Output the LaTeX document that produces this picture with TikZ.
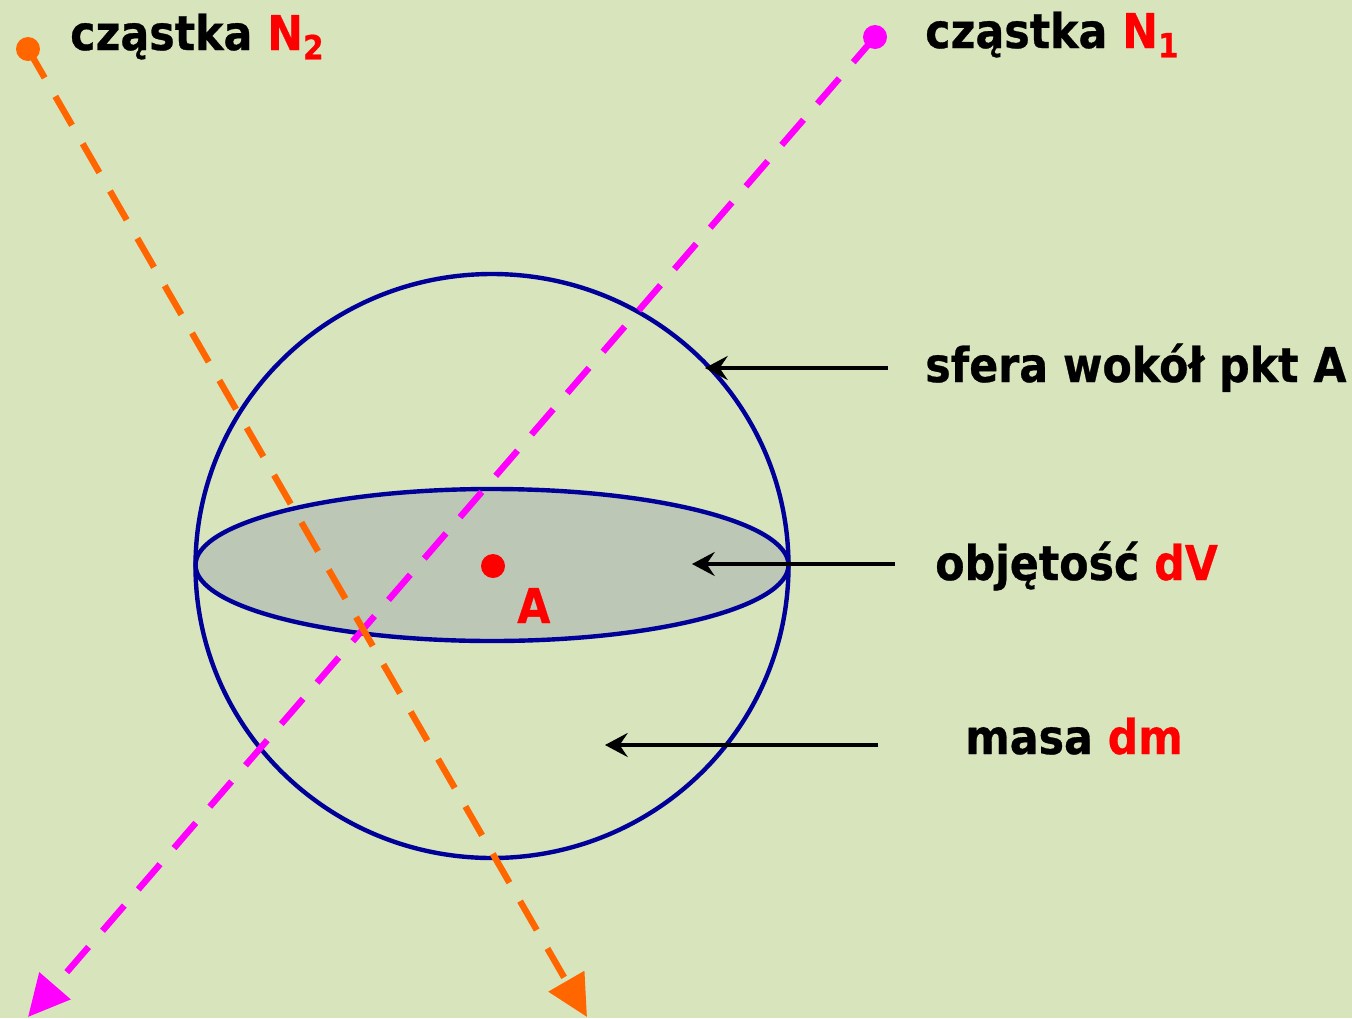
\documentclass[tikz,border=0pt]{standalone}
\usepackage{fontspec}
\setmainfont{DejaVu Sans}[FakeStretch=0.89,BoldFeatures={FakeBold=0.6}]
\usetikzlibrary{arrows.meta}
\definecolor{bg}{RGB}{216,228,188}
\definecolor{fillg}{RGB}{188,199,181}
\definecolor{sph}{RGB}{0,0,153}
\definecolor{orng}{RGB}{255,102,0}
\definecolor{mgnt}{RGB}{255,0,255}
\begin{document}
\begin{tikzpicture}[x=0.75pt,y=-0.75pt,
  lbl/.style={font=\fontsize{36}{40}\selectfont\bfseries, inner sep=0pt, anchor=base west},
  ptr/.style={line width=2.5pt, -{Stealth[length=17pt,width=18pt,inset=6pt]}},
  ray/.style={line width=4.8pt, dash pattern=on 25pt off 16pt, -{Triangle[length=31pt,width=30pt]}},
  dot/.style={circle, inner sep=0pt, minimum size=18pt},
  outl/.style={draw=sph, line width=3.3pt},
]
\fill[bg] (0,0) rectangle (1352,1018);
\useasboundingbox (0,0) rectangle (1352,1018);
% sphere and cross-section
\coordinate (c) at (492,566);
\path[outl, fill=fillg] (492,565) ellipse [x radius=296.5, y radius=76];
\path[outl] (c) ellipse [x radius=296.5, y radius=292];
% particles
\node[dot, fill=mgnt] (n1) at (875,37) {};
\node[dot, fill=orng] (n2) at (28,49) {};
\coordinate (e1) at (28,1017);
\coordinate (e2) at (587,1017);
\draw[ray, mgnt] (n1.center) -- (e1);
\draw[ray, orng] (n2.center) -- (e2);
% point A
\node[dot, fill=red] (pa) at (493,566) {};
\node[lbl, text=red] (la) at (517,623) {A};
% labels
\node[lbl] (l2) at (70,50) {cząstka \textcolor{red}{N\raisebox{-7pt}{\fontsize{25}{25}\selectfont 2}}};
\node[lbl] (l1) at (925,48) {cząstka \textcolor{red}{N\raisebox{-7pt}{\fontsize{25}{25}\selectfont 1}}};
\node[lbl] (ls) at (925,382) {sfera wokół pkt A};
\node[lbl] (lv) at (935,580) {objętość \textcolor{red}{dV}};
\node[lbl] (lm) at (965,754) {masa \textcolor{red}{dm}};
% pointers
\coordinate (s0) at (888,368);
\coordinate (s1) at (705,368);
\coordinate (v0) at (895,564);
\coordinate (v1) at (692,564);
\coordinate (m0) at (878,745);
\coordinate (m1) at (605,745);
\draw[ptr] (s0) -- (s1);
\draw[ptr] (v0) -- (v1);
\draw[ptr] (m0) -- (m1);
\end{tikzpicture}
\end{document}
